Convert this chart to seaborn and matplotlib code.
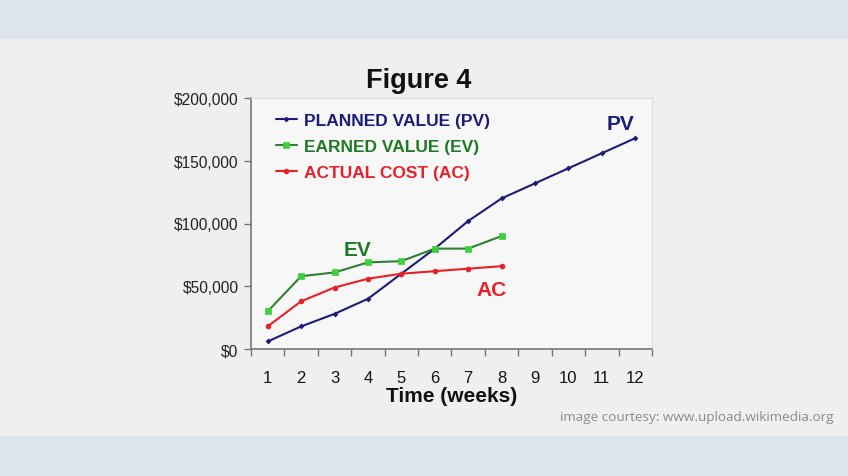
import matplotlib
matplotlib.use("Agg")
import matplotlib.pyplot as plt
import seaborn as sns
import pandas as pd
from matplotlib.patches import Rectangle

weeks = list(range(1, 13))
pv_values = [6000, 18000, 28000, 40000, 60000, 80000, 102000, 120000, 132000, 144000, 156000, 168000]
ev_weeks = list(range(1, 9))
ev_values = [30000, 58000, 61000, 69000, 70000, 80000, 80000, 90000]
ac_weeks = list(range(1, 9))
ac_values = [18000, 38000, 49000, 56000, 60000, 62000, 64000, 66000]
y_ticks = [0, 50000, 100000, 150000, 200000]
y_tick_labels = ["$0", "$50,000", "$100,000", "$150,000", "$200,000"]
series_labels = ["PLANNED VALUE (PV)", "EARNED VALUE (EV)", "ACTUAL COST (AC)"]

sns.set_theme(style="white")
plt.rcParams['font.family'] = ['Liberation Sans', 'DejaVu Sans']

fig = plt.figure(figsize=(8.48, 4.77), dpi=100)
fig.patch.set_facecolor("#dde4ec")
# light gray panel
bg = Rectangle((0, 1 - 437/477), 1, (437-40)/477, transform=fig.transFigure,
               facecolor="#efefef", edgecolor="none", zorder=-10)
fig.add_artist(bg)

ax = fig.add_axes([251/848, 1 - 350/477, (652-251)/848, (350-99)/477])
ax.set_zorder(1)
ax.set_facecolor("#f7f7f7")

pv_df = pd.DataFrame({"week": weeks, "value": pv_values})
ev_df = pd.DataFrame({"week": ev_weeks, "value": ev_values})
ac_df = pd.DataFrame({"week": ac_weeks, "value": ac_values})

navy = "#1c1c78"
green_line = "#2f7f33"
green_marker = "#3ccf3c"
red = "#e8202a"

sns.lineplot(data=pv_df, x="week", y="value", ax=ax, color=navy, lw=1.5,
             marker="D", markersize=3, markeredgewidth=0, label=series_labels[0])
sns.lineplot(data=ev_df, x="week", y="value", ax=ax, color=green_line, lw=1.5,
             marker="s", markersize=4.2, markerfacecolor=green_marker, markeredgecolor=green_marker,
             markeredgewidth=0.5, label=series_labels[1])
sns.lineplot(data=ac_df, x="week", y="value", ax=ax, color=red, lw=1.5,
             marker="o", markersize=4, markeredgewidth=0, label=series_labels[2])

ax.set_xlim(0.5, 12.5)
ax.set_ylim(0, 200000)
ax.set_xticks([w - 0.5 for w in weeks] + [12.5])
ax.set_xticklabels([])
ax.set_xticks(weeks, minor=True)
ax.set_xticklabels([str(w) for w in weeks], minor=True, fontsize=12, color="#111111")
ax.tick_params(axis="x", which="major", length=5, width=1, color="#777777", direction="out", bottom=True)
ax.tick_params(axis="x", which="minor", length=0, pad=15)
ax.set_yticks(y_ticks)
ax.set_yticklabels(y_tick_labels, fontsize=11.2, color="#222222")
ax.tick_params(axis="y", length=5, width=1, color="#777777", direction="out", left=True, pad=4)

for side in ["left", "bottom"]:
    ax.spines[side].set_color("#777777")
    ax.spines[side].set_linewidth(1.2)
for side in ["top", "right"]:
    ax.spines[side].set_visible(True)
    ax.spines[side].set_color("#dddddd")
    ax.spines[side].set_linewidth(1)

ax.set_xlabel("Time (weeks)", fontsize=15, fontweight="bold", color="#111111", labelpad=1)
ax.set_ylabel("")

leg = ax.legend(loc="upper left", bbox_to_anchor=(0.045, 0.968), frameon=False,
                fontsize=12.5, handlelength=1.2, handletextpad=0.4, labelspacing=0.62,
                borderaxespad=0)
for txt, c in zip(leg.get_texts(), [navy, "#1f7a24", red]):
    txt.set_color(c)
    txt.set_fontweight("bold")

ax.text(11.57, 179500, "PV", color=navy, fontsize=15, fontweight="bold", ha="center", va="center")
ax.text(3.7, 79500, "EV", color="#1f7a24", fontsize=15, fontweight="bold", ha="center", va="center")
ax.text(7.7, 47500, "AC", color=red, fontsize=15, fontweight="bold", ha="center", va="center")

fig.text(419/848, 1 - 81/477, "Figure 4", fontsize=19.5, fontweight="bold", color="#111111",
         ha="center", va="center")
fig.text(833/848, 1 - 418/477, "image courtesy: www.upload.wikimedia.org", fontsize=9.7,
         color="#8a8a8a", ha="right", va="center", family=["Open Sans", "DejaVu Sans"])

fig.savefig("out.png", dpi=100, facecolor=fig.get_facecolor())
